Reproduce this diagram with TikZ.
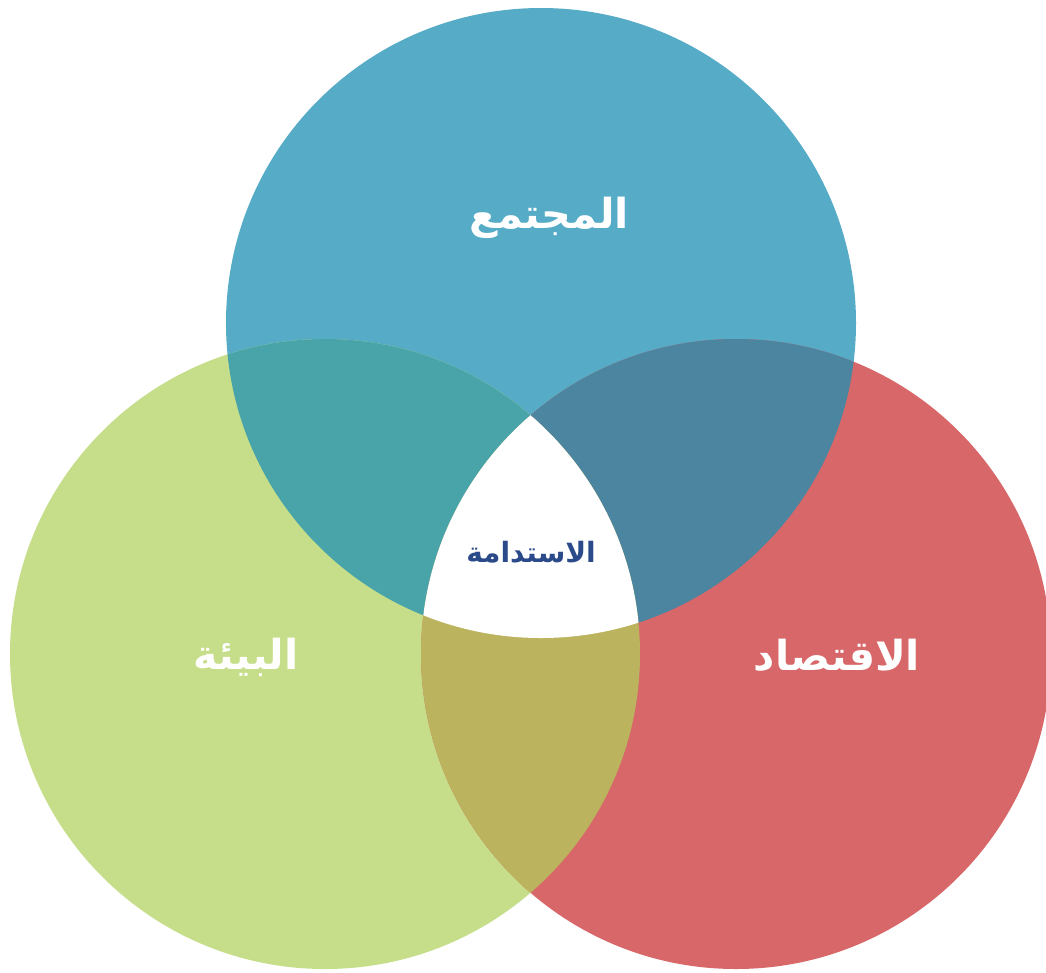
\documentclass[tikz,border=0pt]{standalone}
\usepackage{fontspec}
\newfontfamily\arabicfont[Script=Arabic]{DejaVu Sans}
\TeXXeTstate=1
\definecolor{cblue}{HTML}{56ABC6}
\definecolor{cgreen}{HTML}{C6DE8A}
\definecolor{cred}{HTML}{D86769}
\definecolor{cbg}{HTML}{49A4A9}
\definecolor{cbr}{HTML}{4C859F}
\definecolor{cgr}{HTML}{BBB35D}
\definecolor{cnavy}{HTML}{2B4A8A}
\begin{document}
\begin{tikzpicture}[x=0.75pt,y=-0.75pt,
  biglabel/.style={font=\arabicfont\bfseries\fontsize{31}{37}\selectfont, text=white, inner sep=0pt},
  centrelabel/.style={font=\arabicfont\bfseries\fontsize{21}{25}\selectfont, text=cnavy, inner sep=0pt}]
\useasboundingbox (0,0) rectangle (1046,972);
\fill[white] (0,0) rectangle (1046,972);
\coordinate (B) at (541,323);
\coordinate (G) at (325,654);
\coordinate (R) at (736,654);
\def\rad{315}
\fill[cblue] (B) circle[radius=\rad];
\fill[cgreen] (G) circle[radius=\rad];
\fill[cred] (R) circle[radius=\rad];
\begin{scope}
  \clip (B) circle[radius=\rad];
  \fill[cbg] (G) circle[radius=\rad];
  \fill[cbr] (R) circle[radius=\rad];
\end{scope}
\begin{scope}
  \clip (G) circle[radius=\rad];
  \fill[cgr] (R) circle[radius=\rad];
  \clip (R) circle[radius=\rad];
  \fill[white] (B) circle[radius=\rad];
\end{scope}
\node[biglabel] (soc) at (549,218) {\beginR المجتمع\endR};
\node[biglabel] (env) at (246,657) {\beginR البيئة\endR};
\node[biglabel] (eco) at (837,655) {\beginR الاقتصاد\endR};
\node[centrelabel] (sus) at (531,552) {\beginR الاستدامة\endR};
\end{tikzpicture}
\end{document}
